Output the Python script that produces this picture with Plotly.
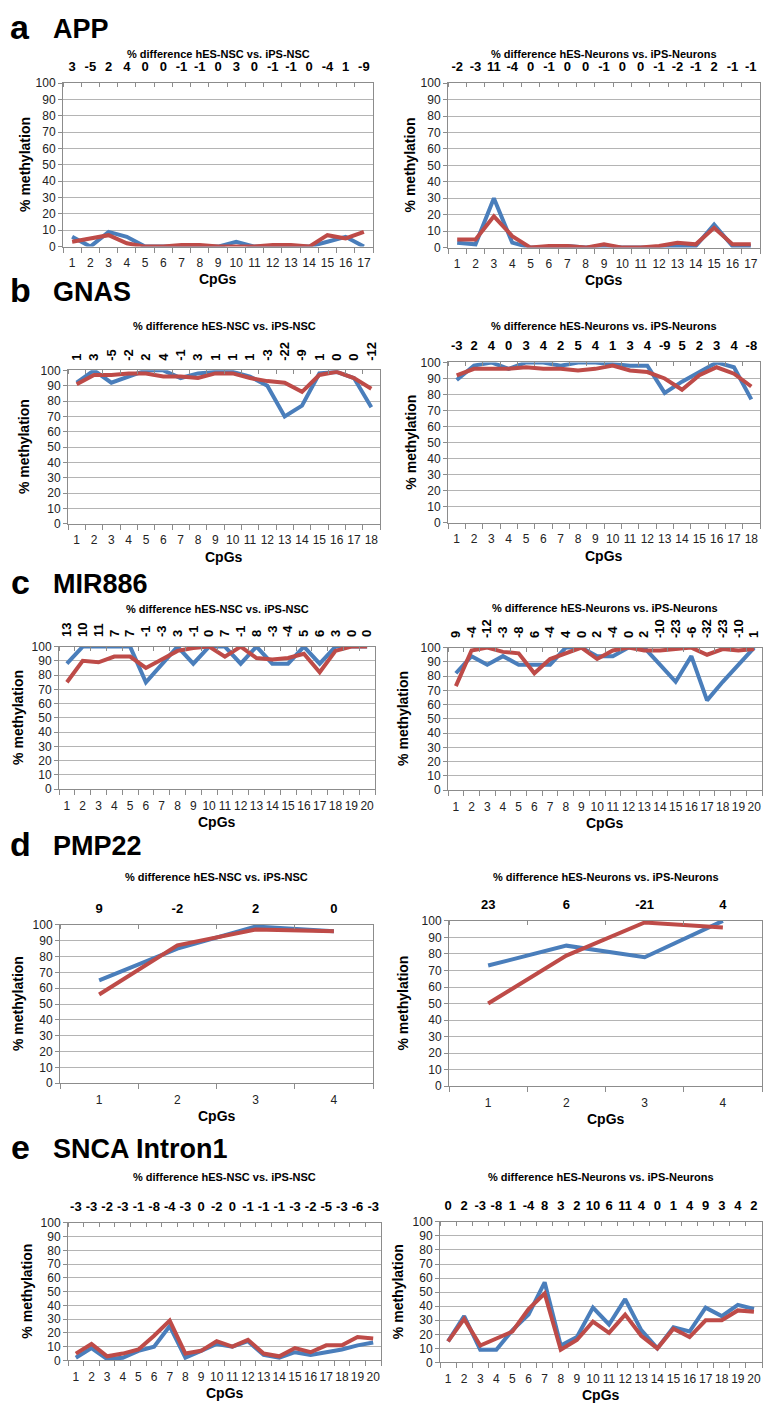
import plotly.graph_objects as go

W, H = 765, 1414
BLUE = "#4a7ebb"
RED = "#be4b48"
AX = "#8c8c8c"
GRID = "#b4b4b4"
TXT = "#222222"
FONT = "Liberation Sans, Arial, sans-serif"

# ---------------- data ----------------
cpg4 = [1, 2, 3, 4]
cpg17 = [1, 2, 3, 4, 5, 6, 7, 8, 9, 10, 11, 12, 13, 14, 15, 16, 17]
cpg18 = [1, 2, 3, 4, 5, 6, 7, 8, 9, 10, 11, 12, 13, 14, 15, 16, 17, 18]
cpg20 = [1, 2, 3, 4, 5, 6, 7, 8, 9, 10, 11, 12, 13, 14, 15, 16, 17, 18, 19, 20]

# a  APP
app_nsc_hes = [6, 0, 9, 6, 0, 0, 0, 0, 0, 3, 0, 0, 0, 0, 3, 6, 0]
app_nsc_ips = [3, 5, 7, 2, 0, 0, 1, 1, 0, 0, 0, 1, 1, 0, 7, 5, 9]
app_nsc_diff = ["3", "-5", "2", "4", "0", "0", "-1", "-1", "0", "3", "0", "-1", "-1", "0", "-4", "1", "-9"]
app_neu_hes = [3, 2, 30, 3, 0, 0, 1, 0, 1, 0, 0, 0, 1, 1, 14, 1, 1]
app_neu_ips = [5, 5, 19, 7, 0, 1, 1, 0, 2, 0, 0, 1, 3, 2, 12, 2, 2]
app_neu_diff = ["-2", "-3", "11", "-4", "0", "-1", "0", "0", "-1", "0", "0", "-1", "-2", "-1", "2", "-1", "-1"]

# b  GNAS
gnas_nsc_hes = [92, 100, 92, 96, 100, 100, 95, 98, 99, 99, 96, 90, 70, 77, 98, 99, 95, 76]
gnas_nsc_ips = [91, 97, 97, 98, 98, 96, 96, 95, 98, 98, 95, 93, 92, 86, 97, 99, 95, 88]
gnas_nsc_diff = ["1", "3", "-5", "-2", "2", "4", "-1", "3", "1", "1", "1", "-3", "-22", "-9", "1", "0", "0", "-12"]
gnas_neu_hes = [89, 98, 100, 96, 100, 100, 98, 100, 100, 99, 98, 98, 81, 88, 94, 100, 97, 77]
gnas_neu_ips = [92, 96, 96, 96, 97, 96, 96, 95, 96, 98, 95, 94, 90, 83, 92, 97, 93, 85]
gnas_neu_diff = ["-3", "2", "4", "0", "3", "4", "2", "5", "4", "1", "3", "4", "-9", "5", "2", "3", "4", "-8"]

# c  MIR886
mir_nsc_hes = [88, 100, 100, 100, 100, 75, 88, 100, 88, 100, 100, 88, 100, 88, 88, 100, 88, 100, 100, 100]
mir_nsc_ips = [75, 90, 89, 93, 93, 85, 91, 97, 99, 100, 93, 100, 92, 91, 92, 95, 82, 97, 100, 100]
mir_nsc_diff = ["13", "10", "11", "7", "7", "-1", "-3", "3", "-1", "0", "7", "-1", "8", "-3", "-4", "5", "6", "3", "0", "0"]
mir_neu_hes = [82, 94, 88, 94, 88, 88, 88, 100, 100, 94, 94, 100, 100, 88, 76, 94, 63, 76, 88, 100]
mir_neu_ips = [73, 98, 100, 97, 96, 82, 92, 96, 100, 92, 98, 100, 98, 98, 99, 100, 95, 99, 98, 99]
mir_neu_diff = ["9", "-4", "-12", "-3", "-8", "6", "-4", "4", "0", "2", "-4", "0", "2", "-10", "-23", "-6", "-32", "-23", "-10", "1"]

# d  PMP22
pmp_nsc_hes = [65, 85, 99, 96]
pmp_nsc_ips = [56, 87, 97, 96]
pmp_nsc_diff = ["9", "-2", "2", "0"]
pmp_neu_hes = [73, 85, 78, 100]
pmp_neu_ips = [50, 79, 99, 96]
pmp_neu_diff = ["23", "6", "-21", "4"]

# e  SNCA Intron1
snca_nsc_hes = [2, 9, 1, 2, 7, 10, 25, 2, 7, 12, 10, 14, 4, 2, 6, 4, 6, 8, 11, 13]
snca_nsc_ips = [5, 12, 3, 5, 8, 18, 29, 5, 7, 14, 10, 15, 5, 3, 9, 6, 11, 11, 17, 16]
snca_nsc_diff = ["-3", "-3", "-2", "-3", "-1", "-8", "-4", "-3", "0", "-2", "0", "-1", "-1", "-1", "-3", "-2", "-5", "-3", "-6", "-3"]
snca_neu_hes = [15, 33, 9, 9, 23, 34, 57, 12, 18, 39, 27, 45, 23, 10, 25, 22, 39, 33, 41, 38]
snca_neu_ips = [15, 31, 12, 17, 22, 38, 49, 9, 16, 29, 21, 34, 19, 10, 24, 18, 30, 30, 37, 36]
snca_neu_diff = ["0", "2", "-3", "-8", "1", "-4", "8", "3", "2", "10", "6", "11", "4", "0", "1", "4", "9", "3", "4", "2"]

T_NSC = "% difference hES-NSC vs. iPS-NSC"
T_NEU = "% difference hES-Neurons vs. iPS-Neurons"

# ---------------- layout spec (pixel boxes) ----------------
panels = [
    dict(x=cpg17, hes=app_nsc_hes, ips=app_nsc_ips, diff=app_nsc_diff, title=T_NSC, box=(63, 373, 77, 242), ty=47, ang=0, yl=25),
    dict(x=cpg17, hes=app_neu_hes, ips=app_neu_ips, diff=app_neu_diff, title=T_NEU, box=(448, 760, 77, 243), ty=47, ang=0, yl=410),
    dict(x=cpg18, hes=gnas_nsc_hes, ips=gnas_nsc_ips, diff=gnas_nsc_diff, title=T_NSC, box=(68, 380, 367, 522), ty=322, ang=-90, yl=24),
    dict(x=cpg18, hes=gnas_neu_hes, ips=gnas_neu_ips, diff=gnas_neu_diff, title=T_NEU, box=(448, 760, 359, 521), ty=322, ang=0, yl=411),
    dict(x=cpg20, hes=mir_nsc_hes, ips=mir_nsc_ips, diff=mir_nsc_diff, title=T_NSC, box=(59, 375, 646, 790), ty=608, ang=-90, yl=18),
    dict(x=cpg20, hes=mir_neu_hes, ips=mir_neu_ips, diff=mir_neu_diff, title=T_NEU, box=(448, 762, 647, 791), ty=607, ang=-90, yl=403),
    dict(x=cpg4, hes=pmp_nsc_hes, ips=pmp_nsc_ips, diff=pmp_nsc_diff, title=T_NSC, box=(60, 373, 927, 1087), ty=879, ang=0, yl=18),
    dict(x=cpg4, hes=pmp_neu_hes, ips=pmp_neu_ips, diff=pmp_neu_diff, title=T_NEU, box=(449, 762, 923, 1090), ty=879, ang=0, yl=403),
    dict(x=cpg20, hes=snca_nsc_hes, ips=snca_nsc_ips, diff=snca_nsc_diff, title=T_NSC, box=(68, 381, 1228, 1367), ty=1182, ang=0, yl=27),
    dict(x=cpg20, hes=snca_neu_hes, ips=snca_neu_ips, diff=snca_neu_diff, title=T_NEU, box=(440, 762, 1227, 1369), ty=1182, ang=0, yl=398),
]

headers = [("a", "APP", 22), ("b", "GNAS", 288), ("c", "MIR886", 583), ("d", "PMP22", 847), ("e", "SNCA Intron1", 1153)]


def px(v):
    return v / W


def py(v):
    return 1 - v / H


fig = go.Figure()
lay = {}
ann = []

for i, p in enumerate(panels):
    k = i + 1
    xb, xt, yy = f"x{2*k-1}", f"x{2*k}", f"y{k}"
    x0, x1, y0, y1 = p["box"]
    n = len(p["x"])
    rng = [0.5, n + 0.5]
    edges = [j + 0.5 for j in range(n + 1)]
    lay[f"xaxis{2*k-1}"] = dict(
        domain=[px(x0), px(x1)], anchor=yy, range=rng, tickmode="array",
        tickvals=p["x"], ticktext=[str(v) for v in p["x"]], ticks="", tickangle=0,
        showgrid=False, zeroline=False, showline=True, linecolor=AX, linewidth=1,
        tickfont=dict(family=FONT, size=12, color=TXT), ticklabelstandoff=5,
        minor=dict(tickmode="array", tickvals=edges, ticks="outside", ticklen=5, tickcolor=AX, showgrid=False),
        fixedrange=True,
    )
    lay[f"xaxis{2*k}"] = dict(
        overlaying=xb, side="top", anchor=yy, range=rng, tickmode="array",
        tickvals=p["x"], ticktext=p["diff"], ticks="", tickangle=p["ang"],
        showgrid=False, zeroline=False, showline=True, linecolor=AX, linewidth=1,
        tickfont=dict(family=FONT, size=13, color="black", weight="bold"), ticklabelstandoff=6,
        minor=dict(tickmode="array", tickvals=edges, ticks="inside", ticklen=4, tickcolor=AX, showgrid=False),
        fixedrange=True,
    )
    lay[f"yaxis{k}"] = dict(
        domain=[py(y1), py(y0)], anchor=xb, range=[0, 100], tickmode="linear", tick0=0, dtick=10,
        showgrid=True, gridcolor=GRID, gridwidth=1, zeroline=False,
        ticks="outside", ticklen=4, tickcolor=AX, showline=True, linecolor=AX, mirror=True,
        tickfont=dict(family=FONT, size=12, color=TXT), fixedrange=True,
    )
    fig.add_trace(go.Scatter(x=p["x"], y=p["hes"], xaxis=xb, yaxis=yy, mode="lines",
                             line=dict(color=BLUE, width=4), name="hES", showlegend=False))
    fig.add_trace(go.Scatter(x=p["x"], y=p["ips"], xaxis=xt, yaxis=yy, mode="lines",
                             line=dict(color=RED, width=4), name="iPS", showlegend=False))
    cx = (x0 + x1) / 2
    ann.append(dict(text=p["title"], x=px(cx), y=py(p["ty"]), xref="paper", yref="paper",
                    xanchor="center", yanchor="middle", showarrow=False,
                    font=dict(family=FONT, size=11, color="black", weight="bold")))
    ann.append(dict(text="CpGs", x=px(cx), y=py(y1 + 33), xref="paper", yref="paper",
                    xanchor="center", yanchor="middle", showarrow=False,
                    font=dict(family=FONT, size=14, color="black", weight="bold")))
    ann.append(dict(text="% methylation", x=px(p["yl"]), y=py((y0 + y1) / 2), xref="paper", yref="paper",
                    xanchor="center", yanchor="middle", showarrow=False, textangle=-90,
                    font=dict(family=FONT, size=14, color="black", weight="bold")))

for letter, gene, yc in headers:
    ann.append(dict(text=letter, x=px(20), y=py(yc - 2), xref="paper", yref="paper",
                    xanchor="center", yanchor="middle", showarrow=False,
                    font=dict(family=FONT, size=34, color="black", weight="bold")))
    ann.append(dict(text=gene, x=px(51), y=py(yc), xref="paper", yref="paper",
                    xanchor="left", yanchor="middle", showarrow=False,
                    font=dict(family=FONT, size=27, color="black", weight="bold")))

fig.update_layout(
    width=W, height=H, margin=dict(l=0, r=0, t=0, b=0),
    paper_bgcolor="white", plot_bgcolor="white",
    showlegend=False, annotations=ann, **lay,
)

fig.write_html("out.html")
